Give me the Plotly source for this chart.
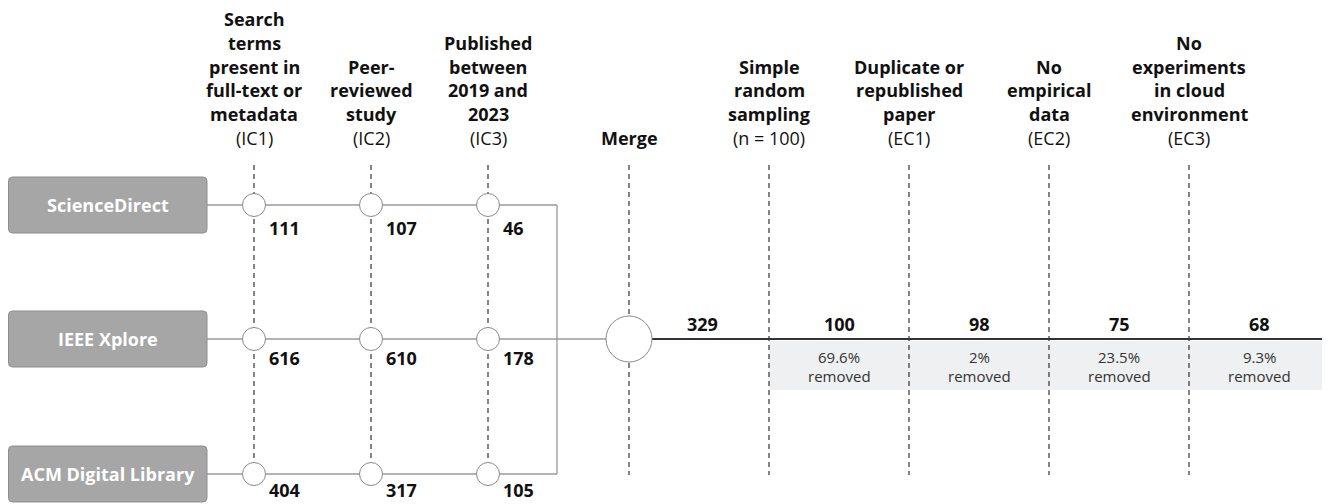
import plotly.graph_objects as go

# ---------------- data ----------------
sources = ["ScienceDirect", "IEEE Xplore", "ACM Digital Library"]
sciencedirect_counts = [111, 107, 46]
ieee_counts = [616, 610, 178]
acm_counts = [404, 317, 105]

inclusion_titles = [
    ["Search", "terms", "present in", "full-text or", "metadata"],
    ["Peer-", "reviewed", "study"],
    ["Published", "between", "2019 and", "2023"],
]
inclusion_codes = ["(IC1)", "(IC2)", "(IC3)"]

merge_label = "Merge"
merged_total = 329

stage_titles = [
    ["Simple", "random", "sampling"],
    ["Duplicate or", "republished", "paper"],
    ["No", "empirical", "data"],
    ["No", "experiments", "in cloud", "environment"],
]
stage_codes = ["(n = 100)", "(EC1)", "(EC2)", "(EC3)"]
stage_counts = [100, 98, 75, 68]
removed_pct = ["69.6%", "2%", "23.5%", "9.3%"]

# ---------------- layout constants ----------------
W, H = 1330, 504
PAGE_MARGIN = 8  # default body margin of the html page
FONT = "Open Sans, Lato, sans-serif"
row_y = [205, 339, 474]
label_dy = [23, 19, 16]
ic_x = [254, 371, 488]
join_x = 557
merge_x = 629
stage_x = [769, 909, 1049, 1189]
end_x = 1330
box_x0, box_x1, box_h = 8.5, 207, 56
head_bottom, head_step = 138, 23.8
dash_top = 165
small_r, merge_r = 11.5, 23

counts = [sciencedirect_counts, ieee_counts, acm_counts]

fig = go.Figure()
shapes = []
ann = []

# shaded "removed" band
shapes.append(dict(type="rect", x0=stage_x[0], x1=end_x, y0=341, y1=390,
                   fillcolor="#eff0f2", line=dict(width=0), layer="below"))

# dashed column lines
for x in ic_x:
    shapes.append(dict(type="line", x0=x, x1=x, y0=dash_top, y1=row_y[2] - small_r,
                       line=dict(color="#333333", width=1.2, dash="5px,4px"), layer="below"))
for x in [merge_x] + stage_x:
    shapes.append(dict(type="line", x0=x, x1=x, y0=dash_top, y1=475,
                       line=dict(color="#333333", width=1.2, dash="5px,4px"), layer="below"))

# source flow lines
grey = "#9a9a9a"
for i, y in enumerate(row_y):
    xe = merge_x - merge_r if i == 1 else join_x
    shapes.append(dict(type="line", x0=box_x1, x1=xe, y0=y, y1=y,
                       line=dict(color=grey, width=1.3), layer="below"))
shapes.append(dict(type="line", x0=join_x, x1=join_x, y0=row_y[0], y1=row_y[2],
                   line=dict(color=grey, width=1.3), layer="below"))
# post merge line
shapes.append(dict(type="line", x0=merge_x + merge_r, x1=end_x, y0=row_y[1], y1=row_y[1],
                   line=dict(color="#333333", width=2), layer="below"))

# source boxes (rounded)
def rounded(x0, y0, x1, y1, r):
    return (f"M{x0+r},{y0} L{x1-r},{y0} Q{x1},{y0} {x1},{y0+r} L{x1},{y1-r} "
            f"Q{x1},{y1} {x1-r},{y1} L{x0+r},{y1} Q{x0},{y1} {x0},{y1-r} "
            f"L{x0},{y0+r} Q{x0},{y0} {x0+r},{y0} Z")

for name, y in zip(sources, row_y):
    y1 = min(y + box_h / 2, H - 1.5)
    shapes.append(dict(type="path", path=rounded(box_x0, y - box_h / 2, box_x1, y1, 4),
                       fillcolor="#a6a6a6", line=dict(color="#8e8e8e", width=1)))
    ann.append(dict(x=(box_x0 + box_x1) / 2, y=y, text=f"<b>{name}</b>", showarrow=False,
                    font=dict(family=FONT, size=18, color="white"), xanchor="center", yanchor="middle"))

# circles
cx, cy = [], []
for y in row_y:
    for x in ic_x:
        cx.append(x)
        cy.append(y)
fig.add_trace(go.Scatter(x=cx, y=cy, mode="markers", hoverinfo="skip", cliponaxis=False,
                         marker=dict(size=small_r * 2, color="white", line=dict(color="#8a8a8a", width=1))))
fig.add_trace(go.Scatter(x=[merge_x], y=[row_y[1]], mode="markers", hoverinfo="skip", cliponaxis=False,
                         marker=dict(size=merge_r * 2, color="white", line=dict(color="#8a8a8a", width=1))))

# counts below circles
for i, y in enumerate(row_y):
    for j, x in enumerate(ic_x):
        ann.append(dict(x=x + 13, y=y + label_dy[i], text=f"<b>{counts[i][j]}</b>", showarrow=False,
                        font=dict(family=FONT, size=18, color="#111111"), xanchor="left", yanchor="middle"))

# headers
def header(x, lines, code):
    all_lines = [(l, True) for l in lines] + ([(code, False)] if code else [])
    n = len(all_lines)
    for k, (t, bold) in enumerate(all_lines):
        ann.append(dict(x=x, y=head_bottom - head_step * (n - 1 - k),
                        text=f"<b>{t}</b>" if bold else t, showarrow=False,
                        font=dict(family=FONT, size=18, color="#111111"),
                        xanchor="center", yanchor="middle"))

for x, lines, code in zip(ic_x, inclusion_titles, inclusion_codes):
    header(x, lines, code)
header(merge_x, [merge_label], None)
for x, lines, code in zip(stage_x, stage_titles, stage_codes):
    header(x, lines, code)

# post-merge counts
seg_edges = [merge_x] + stage_x + [end_x]
mid = [(seg_edges[k] + seg_edges[k + 1]) / 2 for k in range(len(seg_edges) - 1)]
post_counts = [merged_total] + stage_counts
for m, c in zip(mid, post_counts):
    ann.append(dict(x=m + (3 if c == merged_total else 0), y=324, text=f"<b>{c}</b>", showarrow=False,
                    font=dict(family=FONT, size=18, color="#111111"), xanchor="center", yanchor="middle"))
for m, p in zip(mid[1:], removed_pct):
    ann.append(dict(x=m, y=357, text=p, showarrow=False,
                    font=dict(family=FONT, size=15, color="#333333"), xanchor="center", yanchor="middle"))
    ann.append(dict(x=m, y=376, text="removed", showarrow=False,
                    font=dict(family=FONT, size=15, color="#333333"), xanchor="center", yanchor="middle"))

fig.update_layout(
    width=W - PAGE_MARGIN, height=H - PAGE_MARGIN, margin=dict(l=0, r=0, t=0, b=0),
    paper_bgcolor="white", plot_bgcolor="white", showlegend=False,
    xaxis=dict(range=[PAGE_MARGIN, W], visible=False, fixedrange=True),
    yaxis=dict(range=[H, PAGE_MARGIN], visible=False, fixedrange=True),
    shapes=shapes, annotations=ann,
)
fig.write_html("out.html")
